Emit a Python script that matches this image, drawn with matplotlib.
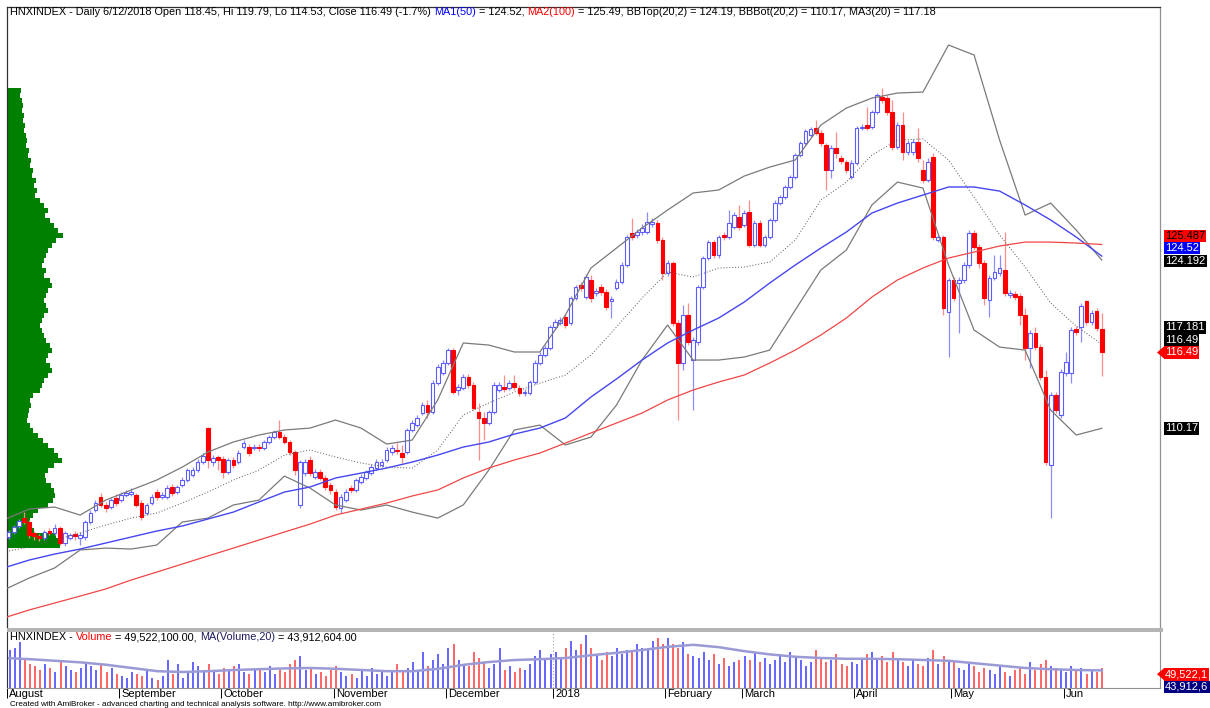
import numpy as np
import matplotlib
matplotlib.use("Agg")
import matplotlib.pyplot as plt
from matplotlib.patches import Rectangle, Polygon

plt.rcParams['font.family'] = ['Liberation Sans', 'DejaVu Sans']

W, H = 1210, 708

# HNXINDEX daily bars, early Aug 2017 .. 12 Jun 2018
opens = [101.11, 101.53, 102.03, 102.69, 102.36, 101.44, 101.19, 101.03, 101.61, 101.44,
         101.86, 100.61, 101.03, 101.36, 101.03, 101.11, 102.36, 103.36, 104.44, 103.78,
         103.61, 104.36, 104.19, 104.61, 104.69, 104.61, 103.94, 103.11, 103.94, 104.86,
         104.44, 104.44, 105.28, 104.86, 105.44, 105.86, 106.28, 106.69, 107.36, 110.19,
         107.36, 107.78, 107.61, 106.53, 107.53, 107.36, 108.61, 108.61, 108.53, 108.61,
         108.53, 109.03, 109.44, 109.86, 109.44, 109.03, 108.19, 103.78, 106.44, 107.53,
         106.11, 106.53, 106.03, 105.44, 104.86, 103.53, 104.19, 105.19, 105.03, 105.69,
         106.03, 106.44, 106.86, 107.11, 107.53, 108.19, 108.36, 108.11, 108.19, 110.03,
         110.44, 111.44, 112.11, 111.53, 113.94, 114.78, 115.61, 116.69, 113.36, 113.53,
         114.44, 113.78, 111.53, 111.03, 110.61, 111.53, 113.36, 113.61, 113.53, 113.94,
         113.53, 113.11, 113.11, 114.03, 115.61, 116.28, 116.86, 118.61, 118.94, 119.44,
         118.94, 121.03, 122.11, 121.11, 122.53, 121.44, 121.94, 121.53, 120.78, 121.86,
         122.36, 123.78, 126.44, 126.28, 126.53, 126.53, 127.19, 127.28, 125.86, 123.11,
         123.94, 118.94, 115.61, 119.61, 115.86, 117.36, 121.94, 124.36, 125.69, 124.61,
         126.28, 126.11, 126.94, 127.78, 127.11, 128.19, 125.44, 127.28, 125.44, 126.11,
         127.53, 128.94, 129.44, 130.28, 131.11, 132.94, 133.94, 134.61, 135.19, 134.78,
         133.78, 131.69, 133.53, 132.69, 132.36, 131.11, 132.28, 135.19, 135.44, 135.28,
         136.53, 137.78, 137.69, 136.53, 133.61, 135.44, 133.19, 133.19, 134.03, 131.69,
         130.86, 132.78, 125.86, 126.11, 119.86, 122.53, 122.28, 122.53, 123.78, 126.44,
         125.28, 123.94, 120.86, 122.69, 123.11, 123.36, 121.28, 121.36, 121.19, 119.61,
         116.86, 118.11, 116.94, 114.44, 107.11, 112.94, 111.28, 114.78, 114.78, 118.44,
         118.61, 120.78, 119.03, 119.94, 118.45]
highs = [101.69, 102.11, 102.61, 103.19, 102.53, 101.61, 101.36, 101.69, 101.86, 102.19,
         102.03, 101.61, 101.44, 101.61, 101.53, 102.53, 103.36, 104.19, 104.78, 104.03,
         104.36, 104.69, 104.86, 105.03, 105.19, 104.78, 104.19, 103.94, 104.69, 105.11,
         104.86, 105.44, 105.53, 105.44, 106.11, 106.86, 106.94, 107.61, 108.11, 110.28,
         107.94, 107.94, 107.86, 107.69, 107.78, 108.36, 109.19, 108.86, 108.86, 108.86,
         109.19, 109.61, 110.03, 110.86, 109.69, 109.19, 108.36, 107.53, 107.61, 107.86,
         106.78, 106.78, 106.28, 105.69, 105.11, 104.69, 105.11, 105.44, 106.03, 106.36,
         106.69, 107.19, 107.61, 107.61, 108.61, 108.78, 108.94, 108.78, 110.19, 110.86,
         111.28, 112.36, 112.53, 114.19, 115.53, 115.86, 116.86, 116.86, 113.86, 114.69,
         114.69, 114.03, 112.28, 111.53, 111.69, 114.03, 114.03, 114.61, 114.19, 114.61,
         113.78, 113.44, 114.19, 115.86, 116.53, 117.11, 118.78, 119.28, 119.44, 119.69,
         121.19, 122.11, 122.36, 123.03, 122.94, 121.86, 122.19, 121.78, 121.19, 122.61,
         124.03, 126.28, 127.69, 126.78, 127.19, 128.19, 127.69, 127.53, 126.11, 124.19,
         124.11, 119.19, 120.44, 120.61, 117.78, 122.11, 124.53, 125.86, 125.86, 126.28,
         126.53, 128.36, 128.19, 128.78, 128.36, 129.19, 127.53, 127.53, 126.28, 127.69,
         129.19, 129.61, 130.44, 131.28, 133.11, 134.11, 135.11, 135.28, 135.86, 135.03,
         133.94, 133.78, 134.86, 132.94, 132.53, 132.53, 135.36, 135.53, 136.94, 136.69,
         138.11, 138.53, 137.94, 137.53, 135.69, 136.53, 134.19, 134.28, 135.19, 132.53,
         132.69, 133.11, 126.36, 126.28, 122.69, 122.78, 122.78, 124.03, 126.69, 126.69,
         125.53, 124.19, 122.94, 124.61, 124.61, 126.53, 121.69, 121.61, 121.44, 120.19,
         118.36, 118.61, 117.19, 115.03, 113.19, 113.19, 115.11, 116.53, 118.61, 118.69,
         120.61, 120.86, 120.03, 120.19, 119.79]
lows = [100.94, 101.36, 101.86, 102.19, 101.03, 100.86, 100.78, 100.86, 101.28, 101.28,
        100.44, 100.36, 100.86, 100.86, 100.44, 100.86, 102.19, 103.19, 103.61, 103.19,
        103.44, 103.69, 104.03, 104.44, 104.53, 103.61, 102.53, 102.94, 103.78, 104.19,
        104.28, 104.28, 104.53, 104.69, 105.28, 105.69, 106.11, 106.53, 107.19, 106.86,
        107.03, 106.69, 106.03, 106.36, 106.86, 107.19, 108.44, 107.86, 108.36, 108.28,
        108.36, 108.86, 109.28, 109.28, 108.86, 107.94, 106.28, 103.53, 106.19, 106.19,
        105.94, 105.86, 105.03, 104.69, 103.36, 103.11, 104.03, 104.78, 104.86, 105.53,
        105.86, 106.28, 106.69, 106.94, 107.36, 107.94, 108.03, 107.28, 108.03, 109.86,
        110.28, 111.28, 111.03, 111.36, 113.78, 114.61, 115.44, 113.03, 112.94, 113.36,
        113.53, 111.69, 107.53, 109.19, 110.44, 111.36, 113.19, 113.19, 113.36, 113.36,
        112.86, 112.86, 112.94, 113.86, 115.44, 116.11, 116.69, 118.44, 118.78, 118.53,
        118.78, 120.86, 121.61, 120.94, 120.69, 121.19, 121.28, 120.03, 119.36, 121.69,
        122.19, 123.61, 125.86, 126.03, 126.28, 126.36, 126.94, 125.61, 122.53, 122.86,
        118.69, 110.86, 115.03, 117.11, 111.69, 117.11, 121.78, 124.19, 124.36, 124.36,
        125.86, 125.94, 126.78, 126.69, 126.94, 125.28, 125.28, 125.28, 125.28, 125.94,
        127.36, 128.78, 129.28, 130.11, 130.94, 132.78, 133.78, 134.44, 134.61, 133.69,
        130.03, 131.03, 132.69, 132.19, 131.44, 130.94, 132.11, 135.03, 135.03, 135.11,
        136.36, 137.28, 136.28, 133.36, 133.44, 132.53, 132.94, 132.94, 132.36, 130.61,
        130.69, 125.86, 125.69, 119.61, 116.11, 120.78, 118.11, 122.28, 123.53, 125.03,
        123.53, 120.44, 119.44, 122.53, 122.86, 121.19, 121.03, 120.86, 118.78, 115.86,
        115.19, 116.69, 114.19, 107.11, 102.69, 111.44, 111.03, 114.53, 113.94, 117.94,
        117.36, 118.78, 118.78, 118.28, 114.53]
closes = [101.53, 101.94, 102.44, 102.36, 101.28, 101.19, 101.03, 101.53, 101.44, 101.86,
          100.61, 101.44, 101.28, 101.19, 101.28, 102.36, 103.11, 103.94, 103.78, 103.53,
          104.19, 103.94, 104.61, 104.78, 104.86, 103.78, 102.78, 103.78, 104.44, 104.44,
          104.61, 105.19, 104.78, 105.28, 105.86, 106.69, 106.69, 107.36, 107.86, 107.53,
          107.69, 107.53, 106.53, 107.53, 107.11, 108.11, 108.94, 108.11, 108.61, 108.53,
          109.03, 109.44, 109.86, 109.44, 109.03, 108.19, 106.69, 107.36, 107.36, 106.44,
          106.53, 106.03, 105.28, 105.03, 103.61, 104.44, 104.86, 105.03, 105.86, 106.11,
          106.53, 106.94, 107.36, 107.36, 108.36, 108.53, 108.28, 107.78, 110.03, 110.61,
          111.03, 112.11, 111.53, 113.94, 115.28, 115.61, 116.69, 113.19, 113.61, 114.44,
          113.78, 111.86, 111.03, 110.61, 111.53, 113.78, 113.78, 113.44, 113.94, 113.61,
          113.11, 113.19, 114.03, 115.61, 116.28, 116.86, 118.61, 119.03, 119.19, 118.78,
          121.03, 121.94, 121.86, 122.78, 121.03, 121.61, 121.53, 120.28, 120.94, 122.36,
          123.78, 126.11, 126.11, 126.53, 126.86, 127.36, 127.36, 125.86, 123.11, 123.94,
          118.94, 115.61, 119.61, 117.36, 117.53, 121.94, 124.36, 125.69, 124.61, 126.11,
          126.11, 127.28, 127.94, 126.94, 128.11, 125.44, 127.28, 125.44, 126.11, 127.53,
          128.94, 129.44, 130.28, 131.11, 132.94, 133.94, 134.94, 135.11, 134.78, 133.94,
          131.69, 133.53, 133.11, 132.44, 131.69, 132.28, 135.19, 135.28, 135.19, 136.53,
          137.94, 137.53, 136.53, 133.61, 135.44, 133.19, 133.94, 134.03, 132.69, 130.86,
          132.36, 126.11, 126.11, 120.19, 122.53, 121.03, 122.53, 123.78, 126.44, 125.28,
          123.94, 121.03, 122.69, 123.19, 123.53, 121.44, 121.44, 121.11, 119.61, 116.86,
          118.11, 116.94, 114.44, 107.36, 112.94, 111.69, 114.86, 115.69, 118.36, 118.19,
          120.36, 119.03, 119.78, 118.53, 116.49]
# volume, millions of shares
volume = [95, 100, 115, 70, 60, 55, 45, 60, 50, 40, 70, 55, 45, 40, 50, 60, 55, 45, 60, 40, 50, 35,
          30, 25, 40, 35, 30, 45, 25, 20, 30, 70, 35, 60, 25, 40, 65, 55, 45, 60, 40, 35,
          50, 45, 55, 60, 40, 35, 45, 50, 40, 55, 35, 45, 40, 60, 70, 80, 45, 50, 35, 40, 30, 45,
          55, 40, 30, 35, 25, 45, 30, 50, 35, 40, 30, 45, 60, 40, 50, 65, 45, 90, 55, 70, 85, 60,
          100, 110, 70, 60, 55, 90, 75, 65, 50, 60, 100, 45, 55, 40, 50, 45, 60, 80, 95, 70, 85,
          90, 75, 100, 118, 95, 110, 132, 100, 85, 70, 90, 80, 100, 85, 95, 90, 110, 100, 95, 118, 125, 110,
          125, 110, 100, 115, 85, 80, 75, 90, 70, 85, 60, 75, 55, 65, 70,
          80, 70, 90, 65, 75, 60, 70, 85, 65, 90, 75, 70, 55, 65, 95, 75, 65, 70, 85, 60, 55, 65,
          60, 75, 85, 90, 70, 80, 65, 90, 75, 65, 55, 70, 60, 55, 75, 95, 60, 80, 70,
          65, 50, 45, 60, 55, 40, 50, 45, 35, 55, 40, 30, 45, 50, 35, 65, 45, 60, 70, 55, 50, 45,
          40, 55, 45, 50, 35, 45, 40, 49.52]

month_names = ["August", "September", "October", "November", "December", "2018",
               "February", "March", "April", "May", "Jun"]
month_first_bar = [1, 23, 43, 65, 87, 108, 130, 145, 167, 186, 208]

# indicator lines, read every 5 bars
ind_idx = [0, 5, 10, 15, 20, 25, 30, 35, 40, 45, 50, 55, 60, 65, 70, 75, 80, 85, 90, 95, 100, 105,
           110, 115, 120, 125, 130, 135, 140, 145, 150, 155, 160, 165, 170, 175, 180, 185, 190, 195,
           200, 205, 210, 215]
bb_top = [102.53, 103.44, 103.61, 102.94, 104.19, 105.03, 105.86, 106.94, 108.19, 109.03, 109.61,
          110.03, 110.19, 110.86, 110.19, 108.86, 109.19, 112.53, 117.28, 117.11, 116.53, 116.53,
          119.61, 123.53, 125.19, 126.86, 128.36, 129.78, 130.03, 131.19, 131.94, 132.53, 135.44,
          136.86, 137.69, 138.11, 138.19, 142.11, 141.28, 134.19, 127.94, 128.94, 126.69, 124.19]
bb_bot = [96.69, 97.69, 98.53, 100.03, 100.19, 100.11, 100.44, 102.36, 102.69, 103.78, 104.19,
          106.19, 105.19, 103.78, 103.36, 103.78, 103.19, 102.69, 103.78, 106.69, 110.03, 110.44,
          108.78, 109.44, 112.11, 115.86, 118.78, 115.86, 115.86, 116.11, 116.69, 120.03, 123.36,
          125.03, 128.78, 130.69, 130.19, 123.78, 118.36, 116.94, 116.69, 111.69, 109.61, 110.17]
ma20 = [99.86, 100.28, 100.86, 101.44, 102.11, 102.69, 103.11, 103.94, 104.86, 105.86, 106.69,
        107.94, 108.36, 107.78, 107.28, 106.94, 106.86, 108.36, 111.28, 112.28, 113.19, 113.94,
        114.61, 116.28, 118.61, 121.03, 123.19, 122.78, 123.53, 123.61, 124.03, 125.86, 129.19,
        130.69, 132.94, 134.19, 134.28, 132.53, 129.44, 126.28, 123.61, 120.61, 118.69, 117.18]
ma50 = [98.53, 99.19, 99.69, 100.11, 100.61, 101.11, 101.61, 102.03, 102.61, 103.19, 104.03,
        104.86, 105.28, 106.03, 106.44, 106.86, 107.36, 107.94, 108.61, 109.03, 109.69, 110.19,
        111.03, 112.78, 114.28, 115.86, 117.28, 118.36, 119.36, 120.69, 122.28, 123.78, 125.19,
        126.53, 128.11, 128.94, 129.61, 130.28, 130.28, 129.94, 128.78, 127.53, 126.11, 124.52]
ma100 = [94.36, 95.03, 95.61, 96.19, 96.78, 97.53, 98.19, 98.86, 99.53, 100.19, 100.86,
         101.53, 102.19, 102.94, 103.44, 103.94, 104.53, 105.03, 106.03, 106.86, 107.53, 108.11,
         108.94, 109.78, 110.61, 111.44, 112.53, 113.36, 114.03, 114.61, 115.61, 116.69, 117.94,
         119.36, 121.11, 122.53, 123.53, 124.36, 124.86, 125.36, 125.69, 125.69, 125.61, 125.49]
vol_ma20 = [75, 72, 68, 64, 58, 50, 42, 40, 42, 45, 47, 49, 50, 48, 45, 42, 42, 48, 58, 65, 70,
            72, 75, 82, 88, 95, 103, 108, 102, 92, 84, 78, 75, 73, 73, 72, 70, 68, 62, 56, 50,
            47, 45, 43.91]

# volume-at-price profile, from the top price level down
vap_price_top = 138.53
vap_price_bottom = 100.19
vap_volume = [13, 12, 14, 15, 14, 16, 15, 17, 16, 18,
              19, 18, 21, 20, 23, 22, 25, 24, 28, 26,
              29, 27, 32, 36, 40, 37, 42, 46, 50, 55,
              48, 44, 40, 38, 36, 34, 38, 36, 42, 44,
              40, 38, 36, 38, 40, 36, 34, 32, 34, 36,
              38, 42, 44, 40, 38, 42, 44, 40,
              36, 34, 32, 25, 22, 23, 21, 20, 19, 22, 25, 30, 35, 40, 46, 50, 54, 46, 40,
              37, 38, 43, 46, 47, 45, 40, 30, 25, 22, 22, 26, 48, 52, 52]


def fx(px):
    return px / W


def fy(py):
    return 1 - py / H


fig = plt.figure(figsize=(W / 100, H / 100), dpi=100)
fig.patch.set_facecolor('white')

price_rect = [fx(7), fy(628), (1160 - 7) / W, (628 - 7) / H]
pax = fig.add_axes(price_rect)          # volume profile, drawn underneath
ax = fig.add_axes(price_rect)
ax.patch.set_visible(False)
vax = fig.add_axes([fx(7), fy(688), (1160 - 7) / W, (688 - 632) / H])

XL = (0.685, 226.4)
YL = (93.53, 145.28)

# --- volume at price ---
n = len(vap_volume)
step = (vap_price_top - vap_price_bottom) / n
centers = vap_price_top - step * (np.arange(n) + 0.5)
pax.barh(centers, vap_volume, height=step, left=1, color='#008000', linewidth=0)
pax.set_xlim(0, 1153)
pax.set_ylim(*YL)
pax.axis('off')

# --- candles ---
o = np.array(opens)
c = np.array(closes)
hi = np.array(highs)
lo = np.array(lows)
idx = np.arange(1, len(c) + 1)
up = c >= o
ax.vlines(idx[up], lo[up], hi[up], color='#8c8cff', lw=0.9, zorder=3)
ax.vlines(idx[~up], lo[~up], hi[~up], color='#ff8c8c', lw=0.9, zorder=3)
for i, oo, cc, u in zip(idx, o, c, up):
    bottom = min(oo, cc)
    height = max(abs(cc - oo), 0.09)
    if u:
        ax.add_patch(Rectangle((i - 0.36, bottom), 0.72, height, facecolor='white',
                               edgecolor='#5c5cff', lw=0.8, zorder=4))
    else:
        ax.add_patch(Rectangle((i - 0.36, bottom), 0.72, height, facecolor='#ff0000',
                               edgecolor='#ff0000', lw=0.8, zorder=4))

# --- indicators ---
ax.plot(ind_idx, bb_top, color='#7a7a7a', lw=0.9, zorder=5)
ax.plot(ind_idx, bb_bot, color='#7a7a7a', lw=0.9, zorder=5)
ax.plot(ind_idx, ma20, color='#555555', lw=0.7, ls=(0, (1, 2)), zorder=5)
ax.plot(ind_idx, ma50, color='#4646f0', lw=1.0, zorder=5)
ax.plot(ind_idx, ma100, color='#f04646', lw=0.9, zorder=5)

ax.set_xlim(*XL)
ax.set_ylim(*YL)
ax.set_xticks([])
ax.set_yticks([])
for side, col in [('left', '#303030'), ('top', '#303030'), ('right', '#909090')]:
    ax.spines[side].set_color(col)
    ax.spines[side].set_linewidth(0.9)
ax.spines['bottom'].set_visible(False)

# --- volume panel ---
vcols = ['#4a4aff' if u else '#ff4a4a' for u in up]
vax.vlines(idx, 0, volume, colors=vcols, lw=1.2)
vax.plot(ind_idx, vol_ma20, color='#9a9ad6', lw=1.8)
vax.axvline(107.5, color='#a0a0a0', lw=0.8, ls=(0, (1, 2)))
vax.set_xlim(*XL)
vax.set_ylim(0, 140)
vax.set_yticks([])
vax.set_xticks([m - 0.5 for m in month_first_bar])
vax.tick_params(axis='x', length=7, width=0.7, color='#000000', labelbottom=False,
                direction='out')
vax.spines['top'].set_visible(False)
vax.spines['left'].set_color('#303030')
vax.spines['right'].set_color('#909090')
vax.spines['bottom'].set_color('#909090')

for name, m in zip(month_names, month_first_bar):
    vax.annotate(name, xy=(m - 0.5, 0), xycoords=('data', 'axes fraction'),
                 xytext=(2, -6), textcoords='offset pixels', va='center', ha='left',
                 fontsize=8)

# separator between the panels
fig.add_artist(Rectangle((fx(7), fy(632)), (1163 - 7) / W, 4 / H,
                         transform=fig.transFigure, color='#b4b4b4', lw=0))


def colored_line(host, x_px, y_px, parts, size):
    gap = 0.278 * size
    t = fig.text(fx(x_px), fy(y_px), parts[0][0], color=parts[0][1], fontsize=size,
                 va='bottom', ha='left')
    for s, col in parts[1:]:
        t = host.annotate(s, xy=(1, 0), xycoords=t, xytext=(gap, 0),
                          textcoords='offset points', va='bottom', ha='left',
                          color=col, fontsize=size, annotation_clip=False, zorder=10)


colored_line(ax, 10, 17, [
    ("HNXINDEX - Daily 6/12/2018 Open 118.45, Hi 119.79, Lo 114.53, Close 116.49 (-1.7%)", 'black'),
    ("MA1(50)", '#0000ff'),
    ("= 124.52,", 'black'),
    ("MA2(100)", '#ff0000'),
    ("= 125.49, BBTop(20,2) = 124.19, BBBot(20,2) = 110.17, MA3(20) = 117.18", 'black'),
], 7.8)

colored_line(vax, 10, 642, [
    ("HNXINDEX -", 'black'),
    ("Volume", '#ff0000'),
    ("= 49,522,100.00,", 'black'),
    ("MA(Volume,20)", '#1a1a60'),
    ("= 43,912,604.00", 'black'),
], 7.8)

fig.text(fx(10), fy(704), "Created with AmiBroker - advanced charting and technical analysis "
         "software. http://www.amibroker.com", fontsize=5.85, va='center', ha='left')


def side_label(axis, val, txt, fc, tc, dy=0, arrow=False):
    y = axis.transData.transform((1, val))[1] + dy
    fig.text(fx(1165), y / H, txt, fontsize=8, color=tc, va='center', ha='left',
             bbox=dict(boxstyle='square,pad=0.12', fc=fc, ec='none'))
    if arrow:
        fig.add_artist(Polygon([(fx(1157), y / H), (fx(1164), (y + 6) / H),
                                (fx(1164), (y - 6) / H)], closed=True,
                               transform=fig.transFigure, color=fc, lw=0))


side_label(ax, 125.487, "125.487", '#ff0000', 'black', dy=8.5)
side_label(ax, 124.52, "124.52", '#0000ff', 'white', dy=8)
side_label(ax, 124.192, "124.192", 'black', 'white', dy=-1)
side_label(ax, 117.181, "117.181", 'black', 'white', dy=17)
side_label(ax, 116.49, "116.49", 'black', 'white', dy=12)
side_label(ax, 116.49, "116.49", '#ff0000', 'white', dy=0, arrow=True)
side_label(ax, 110.17, "110.17", 'black', 'white')
side_label(vax, 49.52, "49,522,1", '#ff0000', 'white', dy=-6, arrow=True)
side_label(vax, 43.91, "43,912,6", '#000080', 'white', dy=-16.5)

fig.savefig("out.png", dpi=100, facecolor='white')
